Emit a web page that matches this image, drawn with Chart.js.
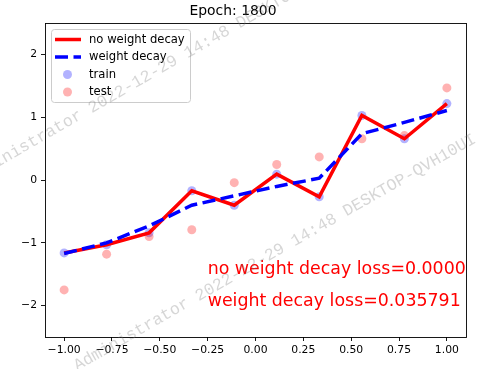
<!DOCTYPE html>
<html>
<head>
<meta charset="utf-8">
<script src="https://cdn.jsdelivr.net/npm/chart.js@4.4.0/dist/chart.umd.min.js"></script>
<style>
  html, body { margin: 0; padding: 0; background: #fff; }
</style>
</head>
<body>
<canvas id="chart" width="480" height="369"></canvas>
<script>
// values
const xData = [-1.0, -0.778, -0.556, -0.333, -0.111, 0.111, 0.333, 0.556, 0.778, 1.0];
const trainY = [-1.16, -1.03, -0.84, -0.17, -0.40, 0.095, -0.265, 1.03, 0.66, 1.22];
const testY = [-1.75, -1.18, -0.90, -0.79, -0.04, 0.25, 0.37, 0.66, 0.71, 1.47];
const noDecayY = [-1.16, -1.03, -0.84, -0.17, -0.40, 0.095, -0.265, 1.03, 0.66, 1.22];
const decayY = [-1.17, -1.0, -0.73, -0.40, -0.25, -0.10, 0.03, 0.74, 0.92, 1.11];

const xTicks = [-1, -0.75, -0.5, -0.25, 0, 0.25, 0.5, 0.75, 1];
const yTicks = [-2, -1, 0, 1, 2];

const titleText = 'Epoch: 1800';
const lossTexts = ['no weight decay loss=0.000000', 'weight decay loss=0.035791'];
const lossAnchors = [[-0.25, -1.5], [-0.25, -2.0]];
const watermarkText = 'Administrator 2022-12-29 14:48 DESKTOP-QVH10UI';

const FONT = "'DejaVu Sans', sans-serif";
const RED = '#ff0000';
const BLUE = '#0000ff';
const DASH = [13, 5.5];

const pts = ys => xData.map((x, i) => ({ x: x, y: ys[i] }));
const minus = s => s.replace('-', '\u2212');

// legend entries (drawn by hand, inside the axes)
const legendItems = [
  { label: 'no weight decay', kind: 'line', color: RED, dash: [] },
  { label: 'weight decay', kind: 'line', color: BLUE, dash: DASH },
  { label: 'train', kind: 'dot', color: 'rgba(0,0,255,0.3)' },
  { label: 'test', kind: 'dot', color: 'rgba(255,0,0,0.3)' },
];

const boxPlugin = {
  id: 'box',
  afterDatasetsDraw(chart) {
    const { ctx, chartArea: a, scales } = chart;

    // loss texts, clipped to the axes
    ctx.save();
    ctx.beginPath();
    ctx.rect(a.left, a.top, a.right - a.left, a.bottom - a.top);
    ctx.clip();
    ctx.font = '17.4px ' + FONT;
    ctx.fillStyle = RED;
    ctx.textBaseline = 'alphabetic';
    ctx.textAlign = 'left';
    lossTexts.forEach((t, i) => {
      ctx.fillText(t, scales.x.getPixelForValue(lossAnchors[i][0]), scales.y.getPixelForValue(lossAnchors[i][1]));
    });
    ctx.restore();

    // legend
    ctx.save();
    ctx.beginPath();
    ctx.roundRect(51.5, 29.5, 139, 73, 3);
    ctx.fillStyle = 'rgba(255,255,255,0.8)';
    ctx.fill();
    ctx.strokeStyle = '#cccccc';
    ctx.lineWidth = 1;
    ctx.stroke();
    ctx.font = '11.6px ' + FONT;
    ctx.textBaseline = 'middle';
    legendItems.forEach((it, i) => {
      const y = 39.5 + i * 17.5;
      if (it.kind === 'line') {
        ctx.beginPath();
        ctx.setLineDash(it.dash);
        ctx.strokeStyle = it.color;
        ctx.lineWidth = 3.5;
        ctx.moveTo(55, y);
        ctx.lineTo(81, y);
        ctx.stroke();
        ctx.setLineDash([]);
      } else {
        ctx.beginPath();
        ctx.fillStyle = it.color;
        ctx.arc(67.5, y, 4.5, 0, Math.PI * 2);
        ctx.fill();
      }
      ctx.fillStyle = '#000';
      ctx.fillText(it.label, 89, y);
    });
    ctx.restore();

    // spines
    ctx.save();
    ctx.strokeStyle = '#000';
    ctx.lineWidth = 0.9;
    ctx.strokeRect(Math.round(a.left) + 0.5, Math.round(a.top) + 0.5,
      Math.round(a.right - a.left), Math.round(a.bottom - a.top));
    ctx.restore();
  },
  afterDraw(chart) {
    // screenshot watermark
    const ctx = chart.ctx;
    ctx.save();
    ctx.font = "16.7px 'Liberation Mono', monospace";
    ctx.fillStyle = 'rgba(120,120,120,0.3)';
    ctx.textBaseline = 'middle';
    [[75, 367], [-32, 179]].forEach(p => {
      ctx.save();
      ctx.translate(p[0], p[1]);
      ctx.rotate(-29.8 * Math.PI / 180);
      ctx.fillText(watermarkText, 0, 0);
      ctx.restore();
    });
    ctx.restore();
  }
};

const tickGrid = { display: true, drawOnChartArea: false, drawTicks: true, tickLength: 4, color: '#000', lineWidth: 0.9 };

new Chart(document.getElementById('chart'), {
  type: 'scatter',
  data: {
    datasets: [
      { label: 'weight decay', data: pts(decayY), showLine: true, borderColor: BLUE, borderWidth: 3.5,
        borderDash: DASH, pointRadius: 0, order: 1 },
      { label: 'no weight decay', data: pts(noDecayY), showLine: true, borderColor: RED, borderWidth: 3.5,
        pointRadius: 0, order: 2 },
      { label: 'test', data: pts(testY), backgroundColor: 'rgba(255,0,0,0.3)', borderWidth: 0,
        pointRadius: 4.5, order: 3 },
      { label: 'train', data: pts(trainY), backgroundColor: 'rgba(0,0,255,0.3)', borderWidth: 0,
        pointRadius: 4.5, order: 4 },
    ],
  },
  options: {
    responsive: false,
    animation: false,
    devicePixelRatio: 1,
    layout: { padding: { left: 0, right: 14, top: 0, bottom: 0 } },
    plugins: {
      legend: { display: false },
      tooltip: { enabled: false },
      title: {
        display: true,
        text: titleText,
        color: '#000',
        font: { size: 13.9, family: FONT, weight: 'normal' },
        padding: { top: 3, bottom: 3.6 },
      },
    },
    scales: {
      x: {
        type: 'linear',
        min: -1.1,
        max: 1.1,
        afterBuildTicks: s => { s.ticks = xTicks.map(v => ({ value: v })); },
        afterFit: s => { s.height = 32; },
        ticks: { color: '#000', padding: 3, font: { size: 10.8, family: FONT },
          callback: v => minus(v.toFixed(2)) },
        grid: tickGrid,
        border: { display: false },
      },
      y: {
        type: 'linear',
        min: -2.5,
        max: 2.5,
        afterBuildTicks: s => { s.ticks = yTicks.map(v => ({ value: v })); },
        afterFit: s => { s.width = 45; },
        ticks: { color: '#000', padding: 4, font: { size: 10.8, family: FONT },
          callback: v => minus(String(v)) },
        grid: tickGrid,
        border: { display: false },
      },
    },
  },
  plugins: [boxPlugin],
});
</script>
</body>
</html>
